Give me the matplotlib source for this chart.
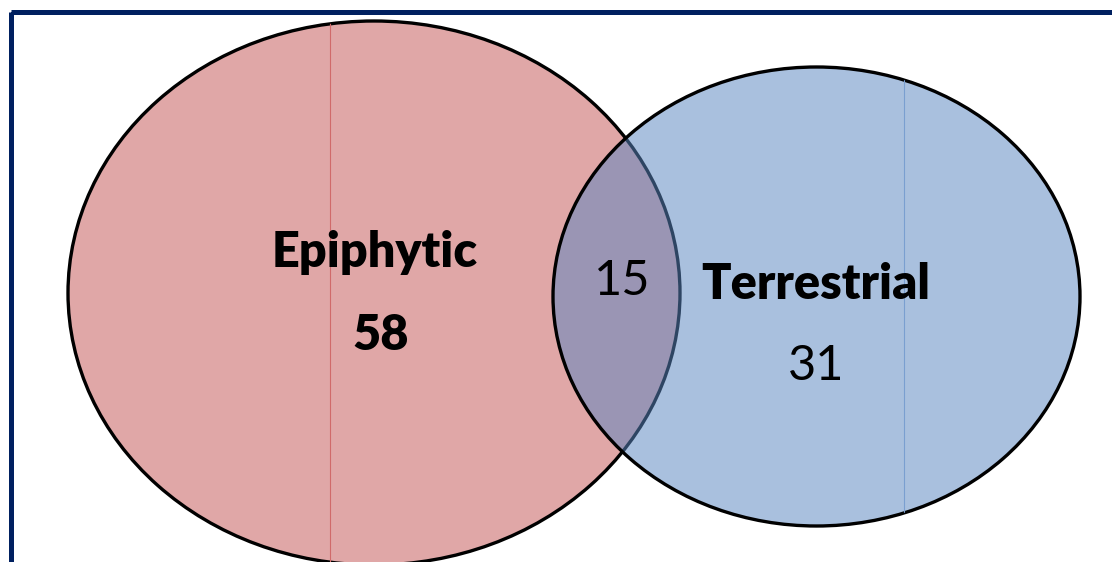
import matplotlib
matplotlib.use("Agg")
import matplotlib.pyplot as plt
from matplotlib.patches import Ellipse, Rectangle

# ---- data ----
set_names = ["Epiphytic", "Terrestrial"]
only_counts = [58, 31]
shared_count = 15

# ---- layout (pixel space of a 1112x562 canvas) ----
W, H = 1112, 562
left_ell = dict(xy=(374, 293), width=612, height=544)
right_ell = dict(xy=(816.5, 296.5), width=527, height=459)

plt.rcParams["font.family"] = ["Lato", "DejaVu Sans"]

fig = plt.figure(figsize=(W / 100, H / 100), dpi=100)
ax = fig.add_axes([0, 0, 1, 1])
ax.set_xlim(0, W)
ax.set_ylim(H, 0)
ax.axis("off")

# frame around the slide
ax.add_patch(Rectangle((10.5, 11.5), W + 20, H + 20, fill=False,
                       edgecolor="#002060", linewidth=3.6, zorder=5))

# left set (Epiphytic)
e1 = Ellipse(**left_ell, facecolor="#E0A7A7", edgecolor="black",
             linewidth=2.4, zorder=1)
ax.add_patch(e1)
l1 = ax.axvline(330, color="#D06A6A", linewidth=0.8, zorder=1.5)
l1.set_clip_path(e1)

# right set (Terrestrial), semi-transparent over the left one
e2 = Ellipse(**right_ell, facecolor=(90 / 255, 134 / 255, 192 / 255, 0.52),
             edgecolor="black", linewidth=2.4, zorder=2)
ax.add_patch(e2)
l2 = ax.axvline(904, color="#7A9FD0", linewidth=0.8, zorder=2.5)
l2.set_clip_path(e2)

# labels
fs = 35
ax.text(375, 267, set_names[0], fontsize=fs, fontweight="heavy",
        ha="center", va="baseline", zorder=6)
ax.text(381, 350, str(only_counts[0]), fontsize=fs, fontweight="heavy",
        ha="center", va="baseline", zorder=6)
ax.text(622, 295, str(shared_count), fontsize=fs,
        ha="center", va="baseline", zorder=6)
ax.text(816, 299, set_names[1], fontsize=fs, fontweight="heavy",
        ha="center", va="baseline", zorder=6)
ax.text(816, 380, str(only_counts[1]), fontsize=fs,
        ha="center", va="baseline", zorder=6)

fig.savefig("out.png", dpi=100)
